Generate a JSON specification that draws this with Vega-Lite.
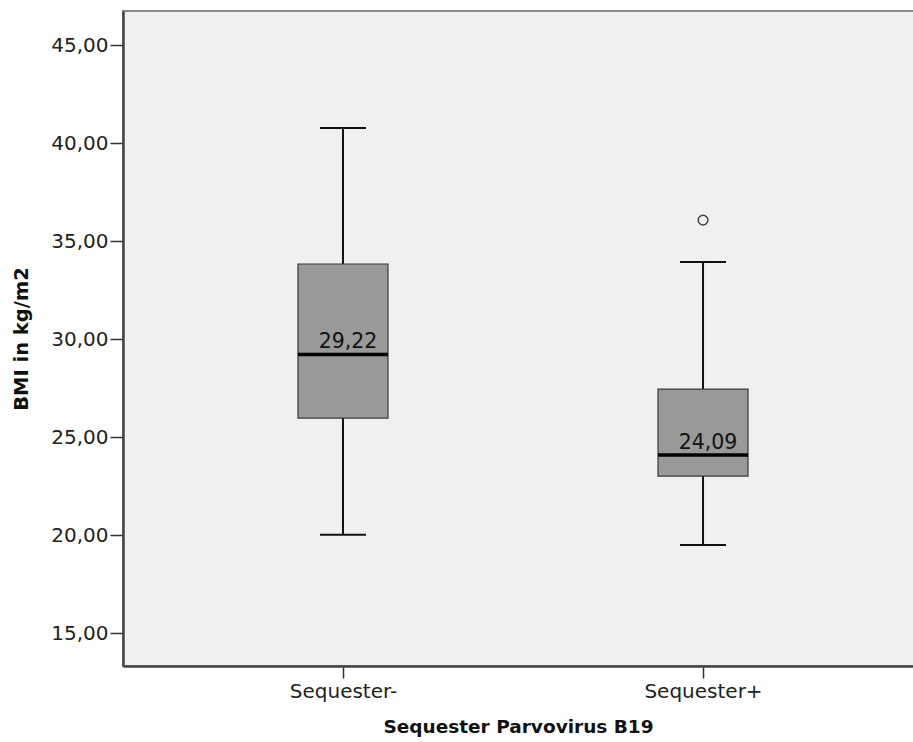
{
  "$schema": "https://vega.github.io/schema/vega-lite/v6.json",
  "autosize": "none",
  "width": 800,
  "height": 655,
  "padding": {"left": 123, "top": 11, "right": -10, "bottom": 76},
  "background": "white",
  "config": {
    "font": "DejaVu Sans",
    "view": {"fill": "#f0f0f0", "stroke": "#8a8a8a", "strokeWidth": 2}
  },
  "datasets": {
    "stats": [
      {"group": "Sequester-", "lower": 20.02, "q1": 25.97, "median": 29.22, "q3": 33.83, "upper": 40.77, "label": "29,22"},
      {"group": "Sequester+", "lower": 19.49, "q1": 23.01, "median": 24.09, "q3": 27.45, "upper": 33.93, "label": "24,09"}
    ],
    "outliers": [
      {"group": "Sequester+", "value": 36.07}
    ]
  },
  "encoding": {
    "x": {
      "field": "group",
      "type": "nominal",
      "sort": ["Sequester-", "Sequester+"],
      "scale": {"type": "point", "padding": 0.611},
      "axis": {
        "title": "Sequester Parvovirus B19",
        "titleFont": "DejaVu Sans",
        "titleFontSize": 18.5,
        "titleFontWeight": "bold",
        "titleColor": "#111",
        "titlePadding": 16,
        "titleX": 395,
        "labelAngle": 0,
        "labelFontSize": 20,
        "labelColor": "#222",
        "labelPadding": 3,
        "tickSize": 12,
        "tickColor": "#333",
        "tickWidth": 1.5,
        "domainColor": "#444",
        "domainWidth": 2.5,
        "grid": false
      }
    }
  },
  "layer": [
    {
      "data": {"name": "stats"},
      "mark": {"type": "rule", "color": "#111", "strokeWidth": 2},
      "encoding": {
        "y": {
          "field": "lower",
          "type": "quantitative",
          "scale": {"domain": [13.32, 46.74], "nice": false, "zero": false},
          "axis": {
            "title": "BMI in kg/m2",
            "titleFont": "DejaVu Sans",
            "titleFontSize": 19.5,
            "titleFontWeight": "bold",
            "titleColor": "#111",
            "titlePadding": 19,
            "values": [15, 20, 25, 30, 35, 40, 45],
            "format": ".2f",
            "labelExpr": "replace(datum.label, '.', ',')",
            "labelFontSize": 20,
            "labelColor": "#222",
            "labelPadding": 2,
            "tickSize": 13,
            "tickColor": "#333",
            "tickWidth": 1.5,
            "domainColor": "#444",
            "domainWidth": 2.5,
            "grid": false
          }
        },
        "y2": {"field": "upper"}
      }
    },
    {
      "data": {"name": "stats"},
      "mark": {"type": "bar", "size": 90, "fill": "#999999", "stroke": "#3a3a3a", "strokeWidth": 1.2},
      "encoding": {
        "y": {"field": "q1", "type": "quantitative"},
        "y2": {"field": "q3"}
      }
    },
    {
      "data": {"name": "stats"},
      "mark": {"type": "tick", "size": 90, "thickness": 3.5, "color": "#000", "opacity": 1},
      "encoding": {"y": {"field": "median", "type": "quantitative"}}
    },
    {
      "data": {"name": "stats"},
      "mark": {"type": "tick", "size": 46, "thickness": 2, "color": "#111", "opacity": 1},
      "encoding": {"y": {"field": "lower", "type": "quantitative"}}
    },
    {
      "data": {"name": "stats"},
      "mark": {"type": "tick", "size": 46, "thickness": 2, "color": "#111", "opacity": 1},
      "encoding": {"y": {"field": "upper", "type": "quantitative"}}
    },
    {
      "data": {"name": "stats"},
      "mark": {"type": "text", "fontSize": 20.5, "color": "#111", "baseline": "alphabetic", "align": "center", "dx": 5, "dy": -6},
      "encoding": {
        "y": {"field": "median", "type": "quantitative"},
        "text": {"field": "label"}
      }
    },
    {
      "data": {"name": "outliers"},
      "mark": {"type": "point", "shape": "circle", "size": 95, "filled": false, "stroke": "#444", "strokeWidth": 1.5, "opacity": 1},
      "encoding": {"y": {"field": "value", "type": "quantitative"}}
    }
  ]
}
